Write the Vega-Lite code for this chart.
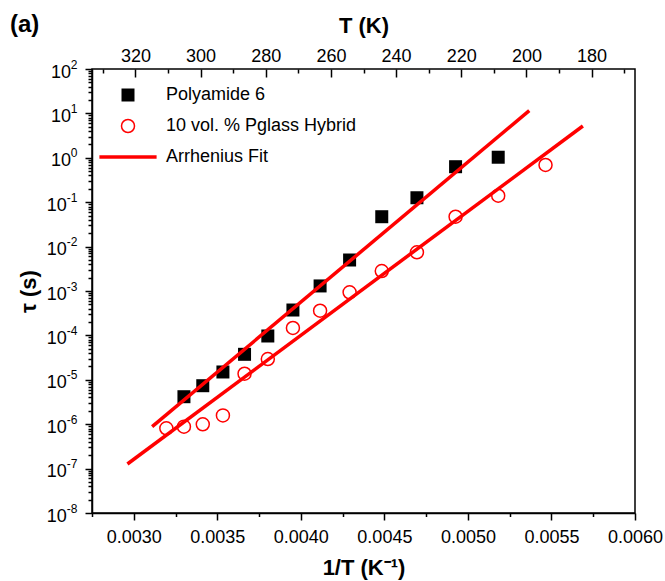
{
  "$schema": "https://vega.github.io/schema/vega-lite/v6.json",
  "width": 543,
  "height": 444,
  "autosize": {"type": "none"},
  "padding": {"left": 92, "top": 69, "right": 30, "bottom": 68},
  "background": "white",
  "title": {"text": "(a)", "anchor": "start", "frame": "group", "font": "Liberation Sans", "fontSize": 24, "fontWeight": "bold", "color": "black", "dx": -82, "dy": 27},
  "datasets": {
    "pts": [
      {"series": "Polyamide 6", "T": 303, "invT": 0.0033003, "tau": 4.16e-6},
      {"series": "Polyamide 6", "T": 293, "invT": 0.0034130, "tau": 7.36e-6},
      {"series": "Polyamide 6", "T": 283, "invT": 0.0035336, "tau": 1.50e-5},
      {"series": "Polyamide 6", "T": 273, "invT": 0.0036630, "tau": 3.75e-5},
      {"series": "Polyamide 6", "T": 263, "invT": 0.0038023, "tau": 9.7e-5},
      {"series": "Polyamide 6", "T": 253, "invT": 0.0039526, "tau": 3.73e-4},
      {"series": "Polyamide 6", "T": 243, "invT": 0.0041152, "tau": 1.30e-3},
      {"series": "Polyamide 6", "T": 233, "invT": 0.0042918, "tau": 4.99e-3},
      {"series": "Polyamide 6", "T": 223, "invT": 0.0044843, "tau": 0.0471},
      {"series": "Polyamide 6", "T": 213, "invT": 0.0046948, "tau": 0.126},
      {"series": "Polyamide 6", "T": 203, "invT": 0.0049261, "tau": 0.63},
      {"series": "Polyamide 6", "T": 193, "invT": 0.0051813, "tau": 1.03},
      {"series": "10 vol. % Pglass Hybrid", "T": 313, "invT": 0.0031949, "tau": 8.1e-7},
      {"series": "10 vol. % Pglass Hybrid", "T": 303, "invT": 0.0033003, "tau": 8.8e-7},
      {"series": "10 vol. % Pglass Hybrid", "T": 293, "invT": 0.0034130, "tau": 9.96e-7},
      {"series": "10 vol. % Pglass Hybrid", "T": 283, "invT": 0.0035336, "tau": 1.58e-6},
      {"series": "10 vol. % Pglass Hybrid", "T": 273, "invT": 0.0036630, "tau": 1.37e-5},
      {"series": "10 vol. % Pglass Hybrid", "T": 263, "invT": 0.0038023, "tau": 2.94e-5},
      {"series": "10 vol. % Pglass Hybrid", "T": 253, "invT": 0.0039526, "tau": 1.47e-4},
      {"series": "10 vol. % Pglass Hybrid", "T": 243, "invT": 0.0041152, "tau": 3.6e-4},
      {"series": "10 vol. % Pglass Hybrid", "T": 233, "invT": 0.0042918, "tau": 9.35e-4},
      {"series": "10 vol. % Pglass Hybrid", "T": 223, "invT": 0.0044843, "tau": 2.82e-3},
      {"series": "10 vol. % Pglass Hybrid", "T": 213, "invT": 0.0046948, "tau": 7.45e-3},
      {"series": "10 vol. % Pglass Hybrid", "T": 203, "invT": 0.0049261, "tau": 0.0471},
      {"series": "10 vol. % Pglass Hybrid", "T": 193, "invT": 0.0051813, "tau": 0.14},
      {"series": "10 vol. % Pglass Hybrid", "T": 183, "invT": 0.0054645, "tau": 0.69}
    ],
    "fits": [
      {"series": "Arrhenius Fit", "fit": "Polyamide 6", "invT": 0.003110, "tau": 8.79e-7},
      {"series": "Arrhenius Fit", "fit": "Polyamide 6", "invT": 0.005367, "tau": 11.5},
      {"series": "Arrhenius Fit", "fit": "Hybrid", "invT": 0.002962, "tau": 1.27e-7},
      {"series": "Arrhenius Fit", "fit": "Hybrid", "invT": 0.005688, "tau": 5.2}
    ]
  },
  "layer": [
    {
      "layer": [
        {
          "data": {"name": "pts"},
          "mark": {"type": "point", "opacity": 1, "size": 169, "filled": true},
          "encoding": {
            "x": {"field": "invT", "type": "quantitative", "scale": {"domain": [0.00275, 0.006], "nice": false, "zero": false},
              "axis": {"orient": "bottom", "values": [0.00275, 0.00325, 0.00375, 0.00425, 0.00475, 0.00525, 0.00575], "labels": false, "tickSize": 3.5, "title": null, "domain": true}},
            "y": {"field": "tau", "type": "quantitative", "scale": {"type": "log", "domain": [1e-8, 100], "nice": false},
              "axis": {"orient": "left", "labels": false, "tickSize": 4, "title": null, "domain": true,
                "values": [2e-8,3e-8,4e-8,5e-8,6e-8,7e-8,8e-8,9e-8,2e-7,3e-7,4e-7,5e-7,6e-7,7e-7,8e-7,9e-7,2e-6,3e-6,4e-6,5e-6,6e-6,7e-6,8e-6,9e-6,2e-5,3e-5,4e-5,5e-5,6e-5,7e-5,8e-5,9e-5,2e-4,3e-4,4e-4,5e-4,6e-4,7e-4,8e-4,9e-4,2e-3,3e-3,4e-3,5e-3,6e-3,7e-3,8e-3,9e-3,0.02,0.03,0.04,0.05,0.06,0.07,0.08,0.09,0.2,0.3,0.4,0.5,0.6,0.7,0.8,0.9,2,3,4,5,6,7,8,9,20,30,40,50,60,70,80,90]}},
            "shape": {"field": "series", "type": "nominal", "title": null,
              "scale": {"domain": ["Polyamide 6", "10 vol. % Pglass Hybrid", "Arrhenius Fit"], "range": ["square", "circle", "M-4.4,0L4.4,0"]},
              "legend": {"orient": "none", "legendX": 27, "legendY": 17}},
            "fill": {"field": "series", "type": "nominal", "title": null,
              "scale": {"domain": ["Polyamide 6", "10 vol. % Pglass Hybrid", "Arrhenius Fit"], "range": ["black", "transparent", "transparent"]},
              "legend": {"orient": "none", "legendX": 27, "legendY": 17}},
            "stroke": {"field": "series", "type": "nominal", "title": null,
              "scale": {"domain": ["Polyamide 6", "10 vol. % Pglass Hybrid", "Arrhenius Fit"], "range": ["black", "#ff0000", "#ff0000"]},
              "legend": {"orient": "none", "legendX": 27, "legendY": 17}},
            "strokeWidth": {"field": "series", "type": "nominal", "title": null,
              "scale": {"type": "ordinal", "domain": ["Polyamide 6", "10 vol. % Pglass Hybrid", "Arrhenius Fit"], "range": [0, 1.5, 3.5]},
              "legend": {"orient": "none", "legendX": 27, "legendY": 17}}
          }
        },
        {
          "data": {"name": "fits"},
          "mark": {"type": "line"},
          "encoding": {
            "x": {"field": "invT", "type": "quantitative", "scale": {"domain": [0.00275, 0.006], "nice": false, "zero": false},
              "axis": {"orient": "bottom", "values": [0.003, 0.0035, 0.004, 0.0045, 0.005, 0.0055, 0.006], "format": ".4f", "tickSize": 7, "labelPadding": 8.7, "domain": false,
                "title": "1/T (K⁻¹)", "titleY": 54, "titleBaseline": "middle"}},
            "y": {"field": "tau", "type": "quantitative", "scale": {"type": "log", "domain": [1e-8, 100], "nice": false},
              "axis": {"orient": "left", "values": [1e-8, 1e-7, 1e-6, 1e-5, 1e-4, 1e-3, 0.01, 0.1, 1, 10, 100], "tickSize": 7, "domain": false,
                "labelExpr": "'10'", "labelAlign": "right", "labelBaseline": "middle", "labelOffset": 3,
                "labelPadding": {"condition": {"test": "datum.value >= 1", "value": 14.5}, "value": 18.7},
                "title": "τ (s)", "titleX": -64, "titleY": 222, "titleBaseline": "middle"}},
            "detail": {"field": "fit", "type": "nominal"},
            "stroke": {"field": "series", "type": "nominal", "legend": null,
              "scale": {"domain": ["Polyamide 6", "10 vol. % Pglass Hybrid", "Arrhenius Fit"], "range": ["black", "#ff0000", "#ff0000"]}},
            "strokeWidth": {"field": "series", "type": "nominal", "legend": null,
              "scale": {"type": "ordinal", "domain": ["Polyamide 6", "10 vol. % Pglass Hybrid", "Arrhenius Fit"], "range": [0, 1.5, 3.5]}}
          }
        },
        {
          "data": {"name": "pts"},
          "mark": {"type": "point", "opacity": 0},
          "encoding": {
            "x": {"field": "invT", "type": "quantitative", "scale": {"domain": [0.00275, 0.006], "nice": false, "zero": false}, "axis": null},
            "y": {"field": "tau", "type": "quantitative", "scale": {"type": "log", "domain": [1e-8, 100], "nice": false},
              "axis": {"orient": "left", "values": [1e-8, 1e-7, 1e-6, 1e-5, 1e-4, 1e-3, 0.01, 0.1, 1, 10, 100], "ticks": false, "domain": false,
                "labelExpr": "'' + round(log(datum.value) / LN10)", "labelFontSize": 12, "labelAlign": "right", "labelBaseline": "middle", "labelOffset": -5, "labelPadding": 15, "title": null}}
          }
        }
      ],
      "resolve": {"axis": {"x": "independent", "y": "independent"}}
    },
    {
      "data": {"name": "pts"},
      "mark": {"type": "point", "opacity": 0},
      "encoding": {
        "x": {"field": "T", "type": "quantitative", "scale": {"domain": [166.6667, 333.3333], "reverse": true, "nice": false, "zero": false},
          "axis": {"orient": "top", "values": [320, 300, 280, 260, 240, 220, 200, 180], "format": "d", "offset": -8, "tickSize": 8, "labelPadding": 3.5, "domain": false,
            "title": "T (K)", "titleY": -52, "titleBaseline": "middle"}}
      }
    },
    {
      "data": {"name": "pts"},
      "mark": {"type": "point", "opacity": 0},
      "encoding": {
        "x": {"field": "T", "type": "quantitative", "scale": {"domain": [166.6667, 333.3333], "reverse": true, "nice": false, "zero": false},
          "axis": {"orient": "top", "values": [330, 310, 290, 270, 250, 230, 210, 190, 170], "offset": -4, "tickSize": 4, "labels": false, "domain": false, "title": null}}
      }
    }
  ],
  "resolve": {"scale": {"x": "independent"}},
  "config": {
    "view": {"stroke": "black", "strokeWidth": 1.5},
    "axis": {"labelFont": "Liberation Sans", "labelFontSize": 18, "labelColor": "black", "titleFont": "Liberation Sans", "titleFontSize": 22, "titleFontWeight": "bold", "titleColor": "black", "tickColor": "black", "domainColor": "black", "tickWidth": 1.5, "domainWidth": 1.5, "grid": false, "labelFlush": false, "labelOverlap": false},
    "legend": {"labelFont": "Liberation Sans", "labelFontSize": 18, "labelColor": "black", "labelLimit": 0, "labelOffset": 29, "rowPadding": 12, "symbolSize": 169, "padding": 0}
  }
}
